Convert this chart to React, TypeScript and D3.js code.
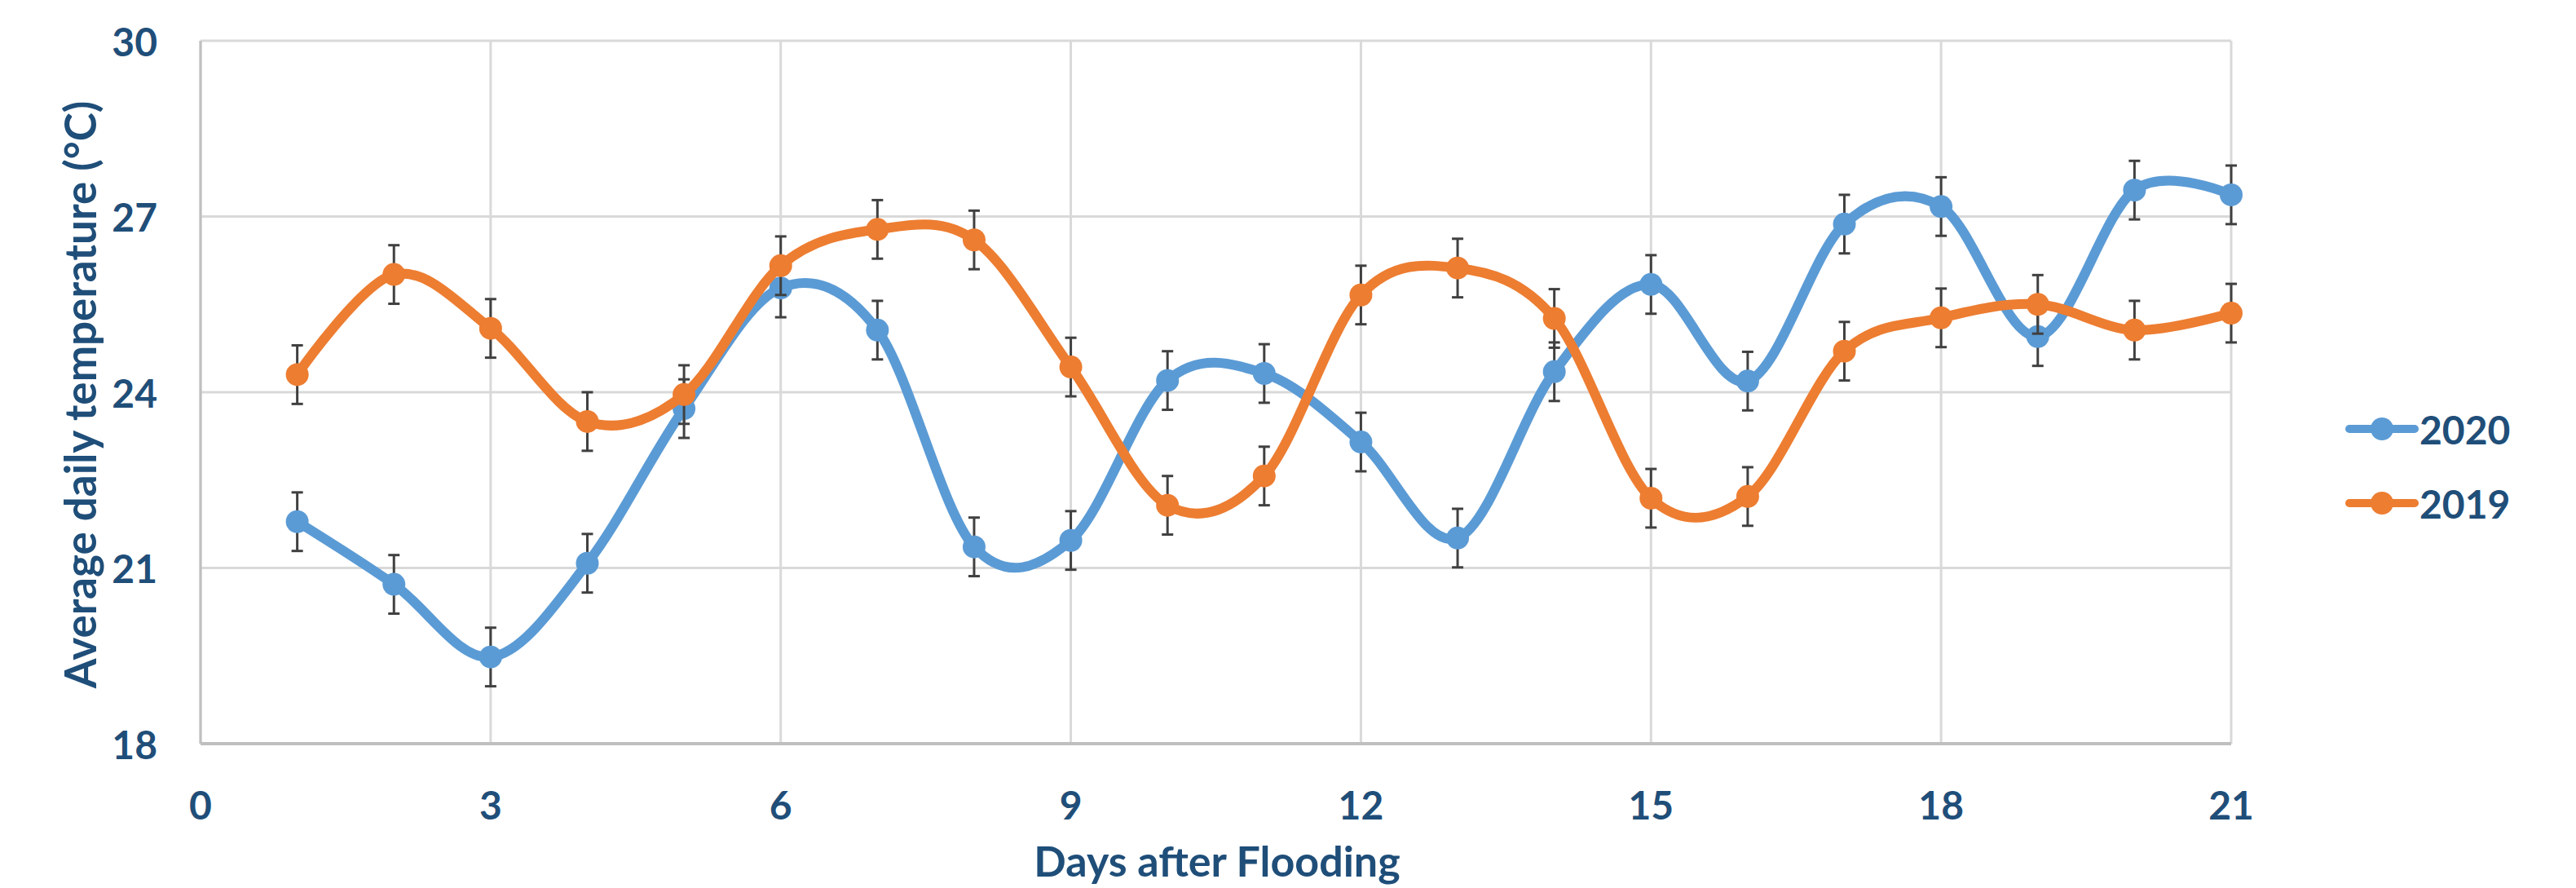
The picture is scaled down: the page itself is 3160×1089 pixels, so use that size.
import React from 'react';
import * as d3 from 'd3';

const days = [1, 2, 3, 4, 5, 6, 7, 8, 9, 10, 11, 12, 13, 14, 15, 16, 17, 18, 19, 20, 21];
const temp2020 = [21.79, 20.72, 19.48, 21.08, 23.72, 25.78, 25.06, 21.36, 21.47, 24.2, 24.32, 23.15, 21.51, 24.35, 25.84, 24.19, 26.87, 27.17, 24.95, 27.45, 27.37];
const temp2019 = [24.3, 26.01, 25.09, 23.5, 23.96, 26.16, 26.78, 26.6, 24.43, 22.07, 22.57, 25.66, 26.12, 25.26, 22.19, 22.22, 24.7, 25.27, 25.5, 25.06, 25.35];
const err2020 = [0.5, 0.5, 0.5, 0.5, 0.5, 0.5, 0.5, 0.5, 0.5, 0.5, 0.5, 0.5, 0.5, 0.5, 0.5, 0.5, 0.5, 0.5, 0.5, 0.5, 0.5];
const err2019 = [0.5, 0.5, 0.5, 0.5, 0.5, 0.5, 0.5, 0.5, 0.5, 0.5, 0.5, 0.5, 0.5, 0.5, 0.5, 0.5, 0.5, 0.5, 0.5, 0.5, 0.5];
const xTicks = [0, 3, 6, 9, 12, 15, 18, 21];
const yTicks = [18, 21, 24, 27, 30];
const seriesNames = ['2020', '2019'];

const W = 3160;
const H = 1089;
const textColor = '#1F4E79';
const font = 'Lato, "Open Sans", sans-serif';

export default function App() {
  const x = d3.scaleLinear().domain([0, 21]).range([246, 2737]);
  const y = d3.scaleLinear().domain([18, 30]).range([912, 50]);

  const line = d3.line<number>()
    .x((_, i) => x(days[i]))
    .y(d => y(d))
    .curve(d3.curveCatmullRom.alpha(0));

  const series = [
    { name: seriesNames[0], values: temp2020, err: err2020, color: '#5B9BD5' },
    { name: seriesNames[1], values: temp2019, err: err2019, color: '#ED7D31' },
  ];

  return (
    <div style={{ position: 'absolute', left: 0, top: 0 }}>
      <svg width={W} height={H} style={{ display: 'block', background: '#fff' }}>
        {/* grid */}
        {yTicks.map(t => (
          <line key={'gy' + t} x1={x(0)} x2={x(21)} y1={y(t)} y2={y(t)} stroke="#D9D9D9" strokeWidth={3} />
        ))}
        {xTicks.map(t => (
          <line key={'gx' + t} x1={x(t)} x2={x(t)} y1={y(30)} y2={y(18)} stroke="#D9D9D9" strokeWidth={3} />
        ))}
        <line x1={x(0)} x2={x(0)} y1={y(30)} y2={y(18)} stroke="#BFBFBF" strokeWidth={3} />
        <line x1={x(0)} x2={x(21)} y1={y(18)} y2={y(18)} stroke="#BFBFBF" strokeWidth={4} />

        {/* tick labels */}
        {yTicks.map(t => (
          <text key={'ly' + t} x={193} y={y(t)} textAnchor="end" dominantBaseline="central"
            fontFamily={font} fontWeight={700} fontSize={48} fill={textColor}>{t}</text>
        ))}
        {xTicks.map(t => (
          <text key={'lx' + t} x={x(t)} y={986} textAnchor="middle" dominantBaseline="central"
            fontFamily={font} fontWeight={700} fontSize={48} fill={textColor}>{t}</text>
        ))}

        {/* axis titles */}
        <text transform={`translate(97,${(y(30) + y(18)) / 2 + 3}) rotate(-90)`} textAnchor="middle" dominantBaseline="central"
          fontFamily={font} fontWeight={700} fontSize={53} fill={textColor}>Average daily temperature (°C)</text>
        <text x={1493} y={1055} textAnchor="middle" dominantBaseline="central"
          fontFamily={font} fontWeight={700} fontSize={52} fill={textColor}>Days after Flooding</text>

        {/* series */}
        {series.map(s => (
          <g key={s.name}>
            <path d={line(s.values) || ''} fill="none" stroke={s.color} strokeWidth={12} strokeLinecap="round" />
            {s.values.map((v, i) => (
              <g key={'e' + i} stroke="#404040" strokeWidth={3}>
                <line x1={x(days[i])} x2={x(days[i])} y1={y(v - s.err[i])} y2={y(v + s.err[i])} />
                <line x1={x(days[i]) - 7} x2={x(days[i]) + 7} y1={y(v - s.err[i])} y2={y(v - s.err[i])} />
                <line x1={x(days[i]) - 7} x2={x(days[i]) + 7} y1={y(v + s.err[i])} y2={y(v + s.err[i])} />
              </g>
            ))}
            {s.values.map((v, i) => (
              <circle key={'m' + i} cx={x(days[i])} cy={y(v)} r={14} fill={s.color} />
            ))}
          </g>
        ))}

        {/* legend */}
        {series.map((s, i) => (
          <g key={'lg' + s.name} transform={`translate(0,${526 + i * 91})`}>
            <line x1={2882} x2={2962} y1={0} y2={0} stroke={s.color} strokeWidth={10} strokeLinecap="round" />
            <circle cx={2922} cy={0} r={14} fill={s.color} />
            <text x={2968} y={0} dominantBaseline="central" fontFamily={font} fontWeight={700} fontSize={48} fill={textColor}>{s.name}</text>
          </g>
        ))}
      </svg>
    </div>
  );
}
